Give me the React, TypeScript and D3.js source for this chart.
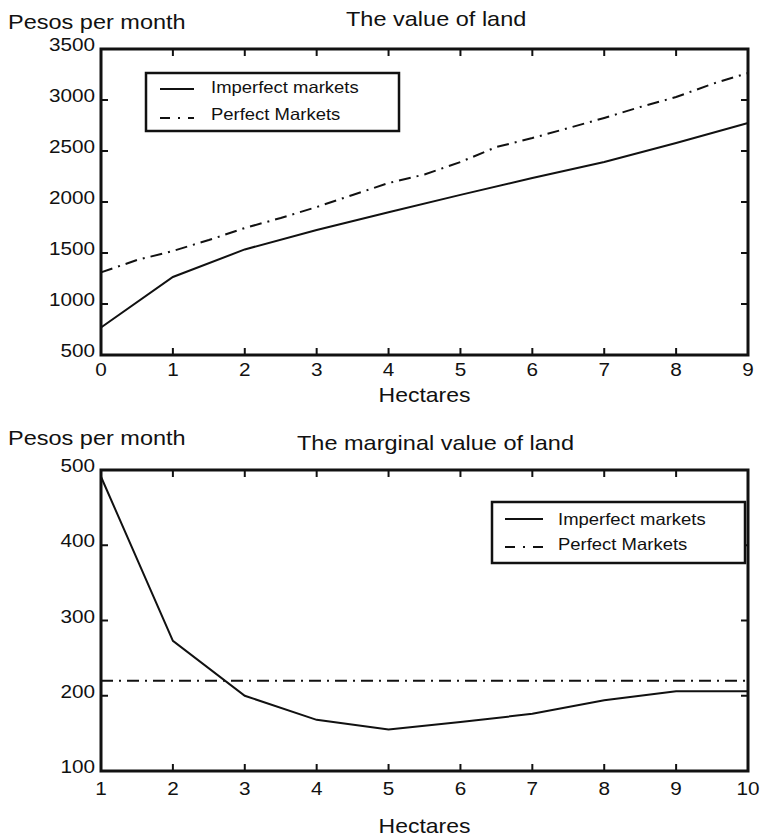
import React from 'react';
import * as d3 from 'd3';

// ---------- data ----------
const topXTicks = [0, 1, 2, 3, 4, 5, 6, 7, 8, 9];
const topYTicks = [500, 1000, 1500, 2000, 2500, 3000, 3500];
const topHectares = [0, 1, 2, 3, 4, 5, 6, 7, 8, 9];
const topImperfect = [770, 1265, 1535, 1725, 1900, 2070, 2235, 2392, 2578, 2775];
const topPerfectHectares = [0, 0.5, 1, 1.5, 2, 2.5, 3, 3.5, 4, 4.5, 5, 5.5, 6, 6.5, 7, 7.5, 8, 8.5, 9];
const topPerfect = [1310, 1431, 1520, 1627, 1745, 1843, 1951, 2069, 2186, 2270, 2392, 2539, 2627, 2725, 2824, 2931, 3029, 3157, 3265];

const bottomXTicks = [1, 2, 3, 4, 5, 6, 7, 8, 9, 10];
const bottomYTicks = [100, 200, 300, 400, 500];
const bottomHectares = [1, 2, 3, 4, 5, 6, 7, 8, 9, 10];
const bottomImperfect = [491, 273, 200, 168, 155, 165, 176, 194, 206, 206];
const bottomPerfect = [220, 220, 220, 220, 220, 220, 220, 220, 220, 220];

const seriesNames = ['Imperfect markets', 'Perfect Markets'];

const FONT = '"Liberation Sans", Arial, Helvetica, sans-serif';
const SX = 1.12;
const INK = '#111';
const DASH = '12 6 2 6';

type Pt = [number, number];

function T({ x, y, size, anchor = 'start', children }: any) {
  return (
    <g transform={`translate(${x},${y}) scale(${SX},1)`}>
      <text x={0} y={0} fontSize={size} fontFamily={FONT} textAnchor={anchor} fill={INK}>
        {children}
      </text>
    </g>
  );
}

function Panel(props: {
  xDomain: [number, number];
  yDomain: [number, number];
  left: number; right: number; top: number; bottom: number;
  xTicks: number[]; yTicks: number[];
  solid: Pt[]; dashed: Pt[];
  ylabY: number; titleX: number; titleY: number; title: string;
  xlabelY: number; xTickY: number;
  legend: { x0: number; y0: number; x1: number; y1: number; lx0: number; lx1: number; tx: number; r1: number; r1t: number; r2: number; r2t: number };
}) {
  const { left, right, top, bottom, legend: L } = props;
  const x = d3.scaleLinear().domain(props.xDomain).range([left, right]);
  const y = d3.scaleLinear().domain(props.yDomain).range([bottom, top]);
  const line = d3.line<Pt>().x(d => x(d[0])).y(d => y(d[1]));
  const tl = 7;
  return (
    <g>
      <T x={8} y={props.ylabY} size={21}>Pesos per month</T>
      <T x={props.titleX} y={props.titleY} size={21}>{props.title}</T>
      <path d={line(props.dashed) || ''} fill="none" stroke={INK} strokeWidth={2} strokeDasharray={DASH} />
      <path d={line(props.solid) || ''} fill="none" stroke={INK} strokeWidth={2} />
      {/* ticks */}
      {props.xTicks.map(t => (
        <g key={'xt' + t}>
          <line x1={x(t)} x2={x(t)} y1={bottom} y2={bottom - tl} stroke={INK} strokeWidth={2} />
          <line x1={x(t)} x2={x(t)} y1={top} y2={top + tl} stroke={INK} strokeWidth={2} />
          <T x={x(t)} y={props.xTickY} size={18.5} anchor="middle">{String(t)}</T>
        </g>
      ))}
      {props.yTicks.map(t => (
        <g key={'yt' + t}>
          <line x1={left} x2={left + tl} y1={y(t)} y2={y(t)} stroke={INK} strokeWidth={2} />
          <line x1={right} x2={right - tl} y1={y(t)} y2={y(t)} stroke={INK} strokeWidth={2} />
          <T x={left - 6} y={y(t) + 2} size={18.5} anchor="end">{String(t)}</T>
        </g>
      ))}
      <rect x={left} y={top} width={right - left} height={bottom - top} fill="none" stroke={INK} strokeWidth={3} />
      {/* legend */}
      <rect x={L.x0} y={L.y0} width={L.x1 - L.x0} height={L.y1 - L.y0} fill="#fff" stroke={INK} strokeWidth={2.5} />
      <line x1={L.lx0} x2={L.lx1} y1={L.r1} y2={L.r1} stroke={INK} strokeWidth={2} />
      <line x1={L.lx0} x2={L.lx1} y1={L.r2} y2={L.r2} stroke={INK} strokeWidth={2} strokeDasharray="10 8 2 8" />
      <T x={L.tx} y={L.r1t} size={16.5}>{seriesNames[0]}</T>
      <T x={L.tx} y={L.r2t} size={16.5}>{seriesNames[1]}</T>
      <T x={(left + right) / 2} y={props.xlabelY} size={20.5} anchor="middle">Hectares</T>
    </g>
  );
}

export default function App() {
  const topSolid: Pt[] = topHectares.map((h, i) => [h, topImperfect[i]]);
  const topDashed: Pt[] = topPerfectHectares.map((h, i) => [h, topPerfect[i]]);
  const botSolid: Pt[] = bottomHectares.map((h, i) => [h, bottomImperfect[i]]);
  const botDashed: Pt[] = bottomHectares.map((h, i) => [h, bottomPerfect[i]]);
  return (
    <svg width={763} height={837} style={{ position: 'absolute', left: 0, top: 0, background: '#fff' }}>
      <rect width={763} height={837} fill="#fff" />
      <Panel
        xDomain={[0, 9]} yDomain={[500, 3500]}
        left={101} right={748} top={49} bottom={355}
        xTicks={topXTicks} yTicks={topYTicks}
        solid={topSolid} dashed={topDashed}
        ylabY={29} titleX={346} titleY={26} title="The value of land"
        xTickY={376} xlabelY={402}
        legend={{ x0: 146, y0: 73, x1: 399, y1: 131, lx0: 160, lx1: 194, tx: 211, r1: 89, r1t: 93, r2: 118, r2t: 120 }}
      />
      <Panel
        xDomain={[1, 10]} yDomain={[100, 500]}
        left={101} right={748} top={470} bottom={771}
        xTicks={bottomXTicks} yTicks={bottomYTicks}
        solid={botSolid} dashed={botDashed}
        ylabY={445} titleX={297} titleY={450} title="The marginal value of land"
        xTickY={795} xlabelY={833}
        legend={{ x0: 492, y0: 502, x1: 745, y1: 563, lx0: 505, lx1: 543, tx: 558, r1: 519, r1t: 525, r2: 547, r2t: 550 }}
      />
    </svg>
  );
}
